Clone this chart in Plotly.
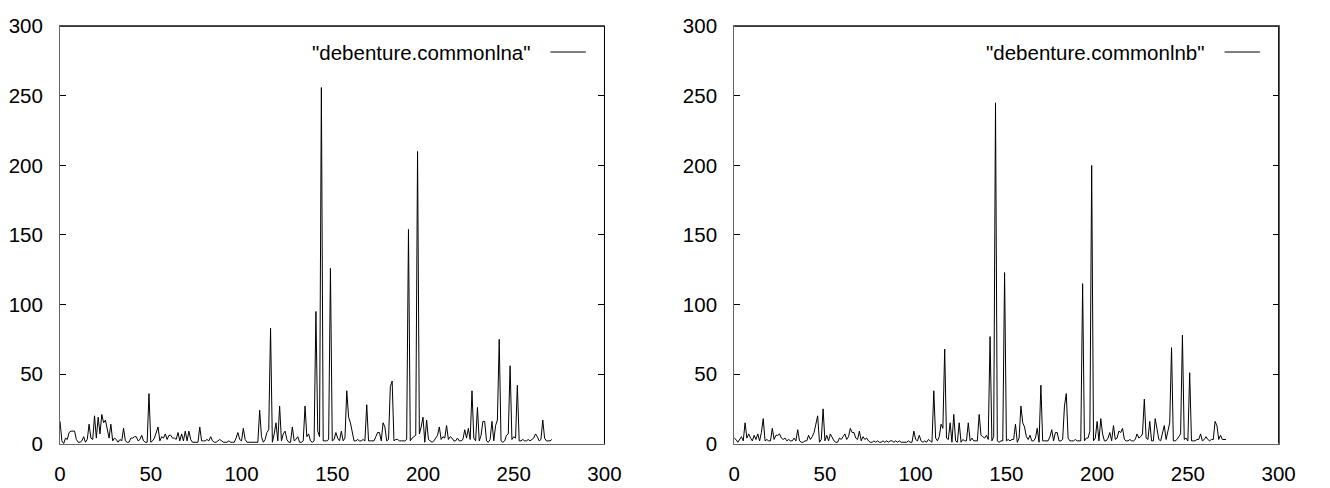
import plotly.graph_objects as go

# Sample index (0..271) shared by both series
x_index = list(range(272))

series_a_name = '"debenture.commonlna"'
series_a = [
    16, 2, 0, 4, 3, 8, 9, 9, 9, 3,
    1, 1, 2, 5, 1, 3, 14, 4, 3, 20,
    4, 19, 7, 21, 15, 17, 10, 4, 14, 2,
    4, 3, 1, 3, 2, 11, 2, 1, 1, 4,
    4, 5, 5, 2, 3, 6, 2, 1, 1, 36,
    1, 2, 4, 8, 12, 2, 5, 4, 7, 3,
    6, 6, 4, 4, 3, 8, 2, 7, 2, 9,
    2, 9, 3, 1, 1, 1, 1, 12, 2, 2,
    2, 3, 2, 5, 2, 1, 1, 2, 3, 2,
    1, 1, 1, 2, 1, 1, 1, 4, 8, 3,
    2, 11, 3, 1, 1, 1, 1, 1, 1, 1,
    24, 5, 1, 3, 8, 10, 83, 1, 7, 15,
    2, 27, 2, 7, 9, 3, 1, 1, 12, 2,
    3, 5, 1, 1, 2, 27, 5, 7, 2, 1,
    2, 95, 9, 5, 256, 2, 2, 2, 3, 126,
    2, 3, 8, 4, 2, 9, 2, 4, 38, 19,
    15, 7, 2, 2, 3, 2, 2, 3, 2, 28,
    2, 2, 2, 2, 5, 8, 8, 2, 15, 12,
    2, 3, 41, 45, 2, 3, 3, 2, 2, 2,
    2, 3, 154, 2, 4, 5, 6, 210, 7, 12,
    19, 1, 17, 3, 2, 1, 2, 4, 6, 12,
    3, 5, 4, 13, 3, 5, 4, 2, 2, 4,
    2, 2, 3, 10, 4, 11, 3, 38, 4, 2,
    26, 2, 6, 16, 16, 2, 1, 3, 16, 2,
    13, 17, 75, 2, 1, 2, 6, 7, 56, 3,
    5, 4, 42, 2, 2, 3, 2, 2, 3, 2,
    3, 4, 7, 5, 2, 3, 17, 4, 2, 2,
    2, 3,
]

series_b_name = '"debenture.commonlnb"'
series_b = [
    4, 3, 1, 3, 5, 2, 15, 4, 7, 4,
    2, 6, 3, 7, 2, 8, 18, 2, 3, 2,
    2, 11, 3, 6, 6, 7, 4, 3, 4, 2,
    3, 2, 2, 4, 2, 10, 2, 1, 1, 2,
    2, 6, 3, 5, 8, 14, 20, 1, 3, 25,
    2, 6, 2, 7, 4, 2, 1, 1, 4, 3,
    5, 7, 3, 5, 11, 8, 8, 4, 3, 9,
    2, 5, 3, 4, 2, 1, 1, 2, 1, 2,
    1, 1, 2, 1, 2, 1, 2, 2, 1, 2,
    1, 2, 1, 1, 1, 1, 2, 1, 1, 9,
    3, 2, 6, 2, 1, 2, 1, 3, 2, 1,
    38, 4, 2, 5, 14, 11, 68, 4, 3, 15,
    1, 21, 2, 1, 15, 1, 3, 2, 2, 15,
    2, 4, 2, 2, 2, 21, 6, 5, 4, 6,
    3, 77, 2, 5, 245, 2, 1, 2, 2, 123,
    2, 3, 2, 3, 3, 14, 1, 4, 27, 15,
    12, 5, 3, 6, 2, 2, 4, 11, 1, 42,
    2, 2, 2, 2, 5, 10, 2, 8, 8, 2,
    2, 3, 27, 36, 4, 2, 2, 2, 3, 2,
    2, 2, 115, 2, 4, 4, 9, 200, 2, 4,
    16, 2, 18, 7, 2, 2, 4, 8, 2, 13,
    3, 4, 9, 8, 11, 3, 2, 2, 3, 2,
    2, 3, 7, 4, 5, 7, 32, 4, 3, 16,
    2, 2, 18, 9, 3, 2, 7, 13, 3, 10,
    15, 69, 2, 2, 3, 5, 7, 78, 3, 4,
    2, 51, 2, 2, 2, 3, 3, 7, 2, 3,
    5, 3, 2, 3, 3, 16, 13, 3, 6, 3,
    3, 3,
]

axis_ticks = [0, 50, 100, 150, 200, 250, 300]

W, H = 1330, 488
FONT = "Liberation Sans, Arial, Helvetica, sans-serif"
FONT_SIZE = 20.5

# panel frames in pixels: (left, right), shared top/bottom
panels = [(55, 609), (741, 1295)]
top_px, bottom_px = 15, 453
y_dom = [(H - bottom_px) / H, (H - top_px) / H]

fig = go.Figure()
fig.add_trace(go.Scatter(x=x_index, y=series_a, mode="lines",
                         line=dict(color="black", width=1),
                         xaxis="x", yaxis="y", showlegend=False))
fig.add_trace(go.Scatter(x=x_index, y=series_b, mode="lines",
                         line=dict(color="black", width=1),
                         xaxis="x2", yaxis="y2", showlegend=False))

axis_common = dict(
    range=[0, 300], tickvals=axis_ticks, ticktext=[str(t) for t in axis_ticks],
    showgrid=False, zeroline=False,
    showline=True, linecolor="#666666", linewidth=1,
    tickfont=dict(family=FONT, size=FONT_SIZE, color="black"),
)

layout = dict(
    width=W, height=H, margin=dict(l=0, r=0, t=0, b=0),
    paper_bgcolor="white", plot_bgcolor="white",
    showlegend=False,
)
for i, (l, r) in enumerate(panels):
    sx = "" if i == 0 else str(i + 1)
    layout["xaxis" + sx] = dict(axis_common, domain=[l / W, r / W],
                                anchor="y" + sx, mirror=True, ticks="",
                                ticklabelstandoff=12)
    layout["yaxis" + sx] = dict(axis_common, domain=y_dom,
                                anchor="x" + sx, mirror="ticks",
                                ticks="inside", ticklen=6, tickwidth=1,
                                tickcolor="black", ticklabelstandoff=12)
fig.update_layout(**layout)

shapes = []
annotations = []
names = [series_a_name, series_b_name]
for i, (l, r) in enumerate(panels):
    # solid black top and right border on each panel
    shapes.append(dict(type="line", xref="paper", yref="paper",
                       x0=l / W, x1=r / W, y0=y_dom[1], y1=y_dom[1],
                       line=dict(color="black", width=1)))
    shapes.append(dict(type="line", xref="paper", yref="paper",
                       x0=r / W, x1=r / W, y0=y_dom[0], y1=y_dom[1],
                       line=dict(color="black", width=1)))
    # key: title text followed by a short line sample
    key_y = 1 - 42 / H
    annotations.append(dict(text=names[i], xref="paper", yref="paper",
                            x=(r - 73) / W, y=key_y, xanchor="right",
                            yanchor="middle", showarrow=False,
                            font=dict(family=FONT, size=FONT_SIZE, color="black")))
    shapes.append(dict(type="line", xref="paper", yref="paper",
                       x0=(r - 55) / W, x1=(r - 19) / W, y0=key_y, y1=key_y,
                       line=dict(color="black", width=1)))
fig.update_layout(shapes=shapes, annotations=annotations)

fig.write_html("out.html",
               post_script="document.body.style.margin='0';"
                           "document.body.style.padding='0';")
